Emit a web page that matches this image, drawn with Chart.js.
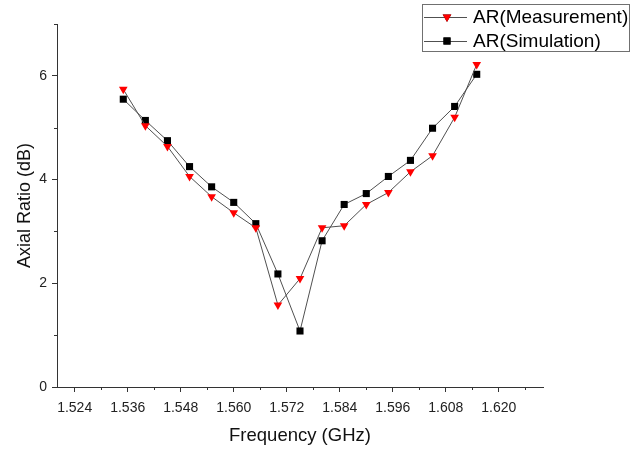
<!DOCTYPE html>
<html>
<head>
<meta charset="utf-8">
<script src="https://cdn.jsdelivr.net/npm/chart.js@4"></script>
<style>
  html, body { margin: 0; padding: 0; background: #fff; }
  #wrap { width: 637px; height: 451px; position: relative; }
</style>
</head>
<body>
<div id="wrap"><canvas id="arChart"></canvas></div>
<script>
// Frequency (GHz)
const freqs = [1.535, 1.540, 1.545, 1.550, 1.555, 1.560, 1.565, 1.570, 1.575,
               1.580, 1.585, 1.590, 1.595, 1.600, 1.605, 1.610, 1.615];
// Axial ratio (dB)
const measured = [5.74, 5.04, 4.64, 4.06, 3.67, 3.36, 3.07, 1.58, 2.09,
                  3.07, 3.11, 3.52, 3.75, 4.15, 4.46, 5.20, 6.22];
const simulated = [5.55, 5.14, 4.75, 4.25, 3.86, 3.56, 3.15, 2.18, 1.08,
                   2.82, 3.52, 3.73, 4.06, 4.37, 4.99, 5.41, 6.03];
const xMajor = [1.524, 1.536, 1.548, 1.560, 1.572, 1.584, 1.596, 1.608, 1.620];
const xMinor = [1.530, 1.542, 1.554, 1.566, 1.578, 1.590, 1.602, 1.614, 1.626];
const yMajor = [0, 2, 4, 6];
const yMinor = [1, 3, 5, 7];
const seriesNames = ['AR(Measurement)', 'AR(Simulation)'];

const FONT = '"Liberation Sans", Arial, sans-serif';
const AXIS = '#333333';
const LINE = '#505050';

// minor ticks, drawn through the scales
const minorTicks = {
    id: 'minorTicks',
    afterDraw(chart) {
        const ctx = chart.ctx;
        const xs = chart.scales.x, ys = chart.scales.y;
        ctx.save();
        ctx.strokeStyle = AXIS;
        ctx.lineWidth = 1;
        ctx.beginPath();
        xMinor.forEach(v => {
            const px = Math.round(xs.getPixelForValue(v)) + 0.5;
            ctx.moveTo(px, xs.top);
            ctx.lineTo(px, xs.top + 3);
        });
        yMinor.forEach(v => {
            const py = Math.round(ys.getPixelForValue(v)) + 0.5;
            ctx.moveTo(ys.right, py);
            ctx.lineTo(ys.right - 3, py);
        });
        ctx.stroke();
        ctx.restore();
    }
};

// boxed legend in the top right corner
const boxLegend = {
    id: 'boxLegend',
    afterDraw(chart) {
        const ctx = chart.ctx;
        ctx.save();
        ctx.strokeStyle = '#707070';
        ctx.lineWidth = 1;
        ctx.strokeRect(422.5, 4.5, 207, 47);
        ctx.font = '19px ' + FONT;
        ctx.textBaseline = 'middle';
        chart.data.datasets.forEach((ds, i) => {
            const y = 17 + i * 24;
            ctx.strokeStyle = LINE;
            ctx.beginPath();
            ctx.moveTo(424, y + 0.5);
            ctx.lineTo(467, y + 0.5);
            ctx.stroke();
            Chart.helpers.drawPoint(ctx, {
                pointStyle: ds.pointStyle,
                radius: ds.pointRadius,
                rotation: ds.pointRotation || 0,
                borderWidth: 0
            }, 447, y);
            ctx.fillStyle = ds.pointBackgroundColor;
            ctx.fill();
            ctx.fillStyle = '#000';
            ctx.fillText(ds.label, 473, y + 1);
        });
        ctx.restore();
    }
};

new Chart(document.getElementById('arChart'), {
    type: 'line',
    data: {
        datasets: [{
            label: seriesNames[0],
            data: freqs.map((f, i) => ({ x: f, y: measured[i] })),
            borderColor: LINE,
            borderWidth: 1,
            pointStyle: 'triangle',
            pointRotation: 180,
            pointRadius: 5,
            pointBackgroundColor: '#ff0000',
            pointBorderWidth: 0,
            tension: 0
        }, {
            label: seriesNames[1],
            data: freqs.map((f, i) => ({ x: f, y: simulated[i] })),
            borderColor: LINE,
            borderWidth: 1,
            pointStyle: 'rect',
            pointRadius: 5,
            pointBackgroundColor: '#000000',
            pointBorderWidth: 0,
            tension: 0
        }]
    },
    options: {
        responsive: true,
        maintainAspectRatio: false,
        animation: false,
        layout: { padding: { top: 24, right: 94, left: 0, bottom: 0 } },
        plugins: {
            legend: { display: false },
            tooltip: { enabled: false }
        },
        scales: {
            x: {
                type: 'linear',
                min: 1.52,
                max: 1.63,
                afterBuildTicks: (scale) => { scale.ticks = xMajor.map(v => ({ value: v })); },
                afterFit: (scale) => { scale.height = 64; },
                ticks: {
                    autoSkip: false,
                    maxRotation: 0,
                    padding: 8,
                    color: '#222',
                    font: { family: FONT, size: 14 },
                    callback: (v) => v.toFixed(3)
                },
                grid: { drawOnChartArea: false, tickLength: 5, color: AXIS },
                border: { color: AXIS, width: 1 },
                title: {
                    display: true,
                    text: 'Frequency (GHz)',
                    color: '#111',
                    font: { family: FONT, size: 18.5 },
                    padding: { top: 6 }
                }
            },
            y: {
                min: 0,
                max: 7,
                afterBuildTicks: (scale) => { scale.ticks = yMajor.map(v => ({ value: v })); },
                afterFit: (scale) => { scale.width = 57; },
                ticks: {
                    padding: 5,
                    color: '#222',
                    font: { family: FONT, size: 14 },
                    callback: (v) => String(v)
                },
                grid: { drawOnChartArea: false, tickLength: 5, color: AXIS },
                border: { color: AXIS, width: 1 },
                title: {
                    display: true,
                    text: 'Axial Ratio (dB)',
                    color: '#111',
                    font: { family: FONT, size: 18 },
                    padding: { top: 14, bottom: 0 }
                }
            }
        }
    },
    plugins: [minorTicks, boxLegend]
});
</script>
</body>
</html>
